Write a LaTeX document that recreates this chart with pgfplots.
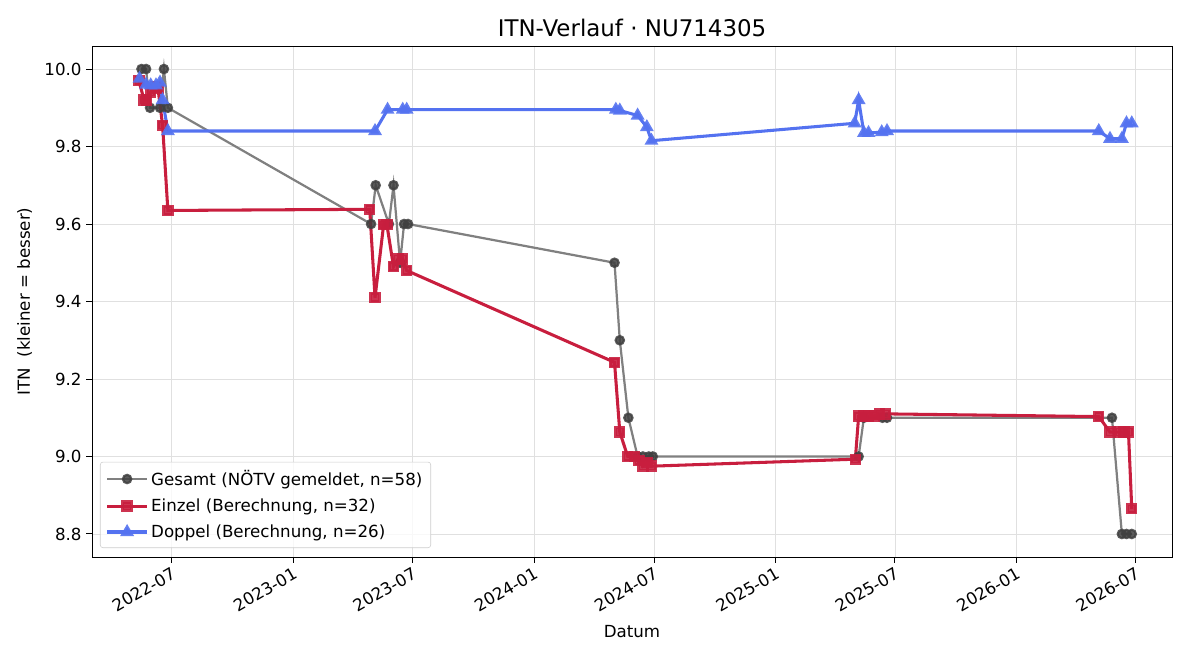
\documentclass[border=0pt]{standalone}
\usepackage{pgfplots}
\pgfplotsset{compat=1.18}
\usepackage{fontspec}
\setmainfont{DejaVu Sans}
\definecolor{cgray}{RGB}{128,128,128}
\definecolor{cgraym}{RGB}{64,64,64}
\definecolor{cred}{RGB}{200,30,62}
\definecolor{cblue}{RGB}{84,114,240}
\begin{document}
\begin{tikzpicture}
\useasboundingbox (-66.24pt,-74.16pt) rectangle (797.76pt,401.04pt);
\begin{axis}[
  at={(0,0)}, anchor=south west,
  scale only axis, width=777.6pt, height=367.9pt,
  xmin=60, xmax=1697, ymin=8.7406, ymax=10.0594,
  xtick={181,365,546,730,912,1096,1277,1461,1642},
  xticklabels={2022-07,2023-01,2023-07,2024-01,2024-07,2025-01,2025-07,2026-01,2026-07},
  xticklabel style={rotate=30, anchor=north east, inner sep=2pt},
  ytick={8.8,9.0,9.2,9.4,9.6,9.8,10.0},
  yticklabel style={/pgf/number format/fixed, /pgf/number format/fixed zerofill, /pgf/number format/precision=1},
  /pgf/number format/assume math mode=true,
  tick label style={font=\fontsize{12}{14}\selectfont},
  label style={font=\fontsize{12}{14}\selectfont},
  xlabel={Datum}, ylabel={ITN\ \ (kleiner = besser)},
  xlabel style={yshift=-3pt},
  ylabel style={yshift=2pt},
  title={ITN-Verlauf · NU714305},
  title style={font=\fontsize{16.5}{19}\selectfont, yshift=-3pt},
  grid=major, grid style={black!12, line width=0.6pt},
  tick align=outside, major tick length=4pt,
  tick style={black, line width=0.7pt},
  xtick pos=bottom, ytick pos=left,
  axis line style={line width=0.7pt},
  legend cell align=left,
  legend style={at={(0.0074,0.0176)}, anchor=south west, draw=black!20, rounded corners=2pt, fill=white, fill opacity=0.8, text opacity=1, font=\fontsize{12}{14}\selectfont, row sep=4pt, inner sep=4pt},
  legend image code/.code={\draw[mark repeat=2,mark phase=2] plot coordinates {(0cm,0cm) (0.5cm,0cm) (1.0cm,0cm)};},
]
\addplot[color=cgray, line width=1.6pt, mark=*, mark size=3pt, mark options={fill=cgraym, draw=cgraym, opacity=0.85}] coordinates {
(135,10.0) (142,10.0) (148,9.9) (163,9.9) (169,10.0) (175,9.9)
(483,9.6) (490,9.7) (510,9.6) (517,9.7) (527,9.5) (533,9.6) (539,9.6)
(852,9.5) (860,9.3) (873,9.1) (887,9.0) (895,9.0) (904,9.0) (910,9.0)
(1222,9.0) (1230,9.1) (1258,9.1) (1265,9.1)
(1606,9.1) (1621,8.8) (1628,8.8) (1636,8.8)
};
\addlegendentry{Gesamt (NÖTV gemeldet, n=58)}
\addplot[color=cred, line width=2.2pt, mark=square*, mark size=3pt, mark options={fill=cred, draw=cred, opacity=0.9}] coordinates {
(131,9.97) (139,9.92) (143,9.92) (149,9.94) (157,9.955) (160,9.95) (167,9.855) (175,9.635)
(481,9.638) (489,9.41) (502,9.598) (507,9.598) (517,9.49) (524,9.51) (531,9.51) (537,9.48)
(852,9.243) (860,9.063) (872,9.0) (882,9.0) (889,8.99) (895,8.975) (901,8.985) (908,8.975)
(1217,8.993) (1222,9.104) (1230,9.105) (1237,9.104) (1246,9.105) (1254,9.11) (1263,9.11)
(1586,9.103) (1603,9.063) (1618,9.063) (1624,9.063) (1631,9.063) (1636,8.865)
};
\addlegendentry{Einzel (Berechnung, n=32)}
\addplot[color=cblue, line width=2.2pt, mark=triangle*, mark size=3.6pt, mark options={fill=cblue, draw=cblue, opacity=0.9}] coordinates {
(132,9.975) (142,9.96) (149,9.958) (157,9.958) (163,9.965) (167,9.92) (175,9.84)
(489,9.84) (508,9.895) (531,9.895) (537,9.895)
(854,9.895) (860,9.893) (887,9.88) (901,9.85) (908,9.815)
(1216,9.86) (1222,9.92) (1230,9.835) (1237,9.835) (1257,9.837) (1265,9.84)
(1586,9.84) (1603,9.82) (1621,9.82) (1628,9.86) (1636,9.86)
};
\addlegendentry{Doppel (Berechnung, n=26)}
\end{axis}
\end{tikzpicture}
\end{document}
